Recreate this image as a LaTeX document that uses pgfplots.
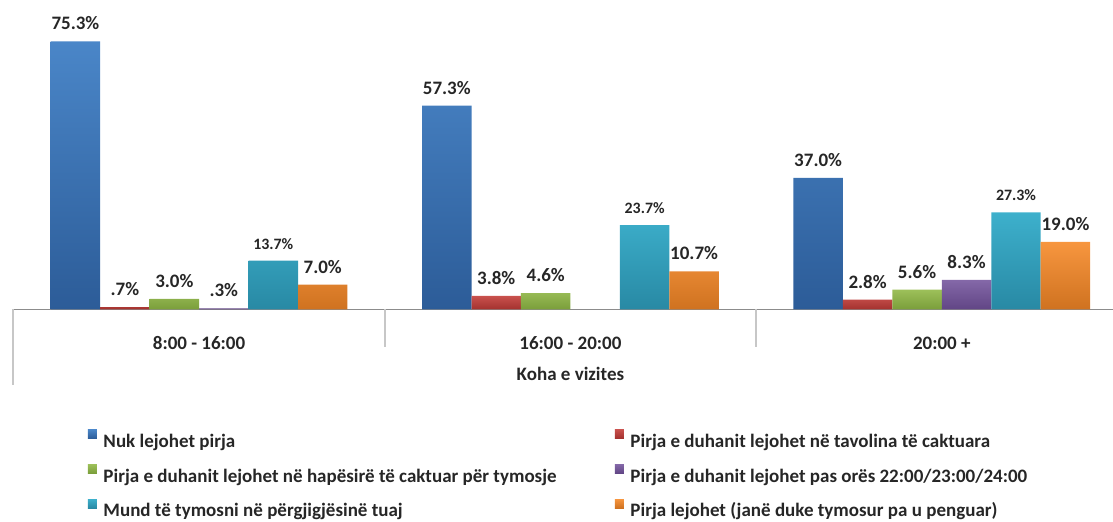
\documentclass[border=0pt]{standalone}
\usepackage{pgfplots}
\pgfplotsset{compat=1.18}
\usepackage{fontspec}
\setmainfont{Carlito}
\definecolor{bluetop}{HTML}{4A86C8}
\definecolor{bluebot}{HTML}{2C5C98}
\definecolor{redtop}{HTML}{C9514D}
\definecolor{redbot}{HTML}{A3312E}
\definecolor{greentop}{HTML}{9DC05A}
\definecolor{greenbot}{HTML}{7A9E3A}
\definecolor{purpletop}{HTML}{8468A8}
\definecolor{purplebot}{HTML}{614585}
\definecolor{cyantop}{HTML}{3DB0CC}
\definecolor{cyanbot}{HTML}{2889A4}
\definecolor{orangetop}{HTML}{F7963F}
\definecolor{orangebot}{HTML}{CF7220}
\newcommand{\bigf}{\fontsize{14.25}{17.1}\selectfont\bfseries}
\newcommand{\smallf}{\fontsize{11.9}{14.3}\selectfont\bfseries}
\newcommand{\lstrut}{\rule[-7.8pt]{0pt}{22.5pt}}
\newcommand{\colA}[1]{\makebox[383.6pt][l]{\lstrut #1}}
\newcommand{\colB}[1]{\lstrut #1}
\begin{document}
\begin{tikzpicture}
\useasboundingbox (0,0) rectangle (834.75pt,390.75pt);
\clip (0,0) rectangle (834.75pt,390.75pt);
\begin{axis}[
  at={(10.05pt,158.63pt)}, anchor=south west,
  scale only axis, width=824.7pt, height=232.1pt,
  xmin=-0.5, xmax=2.461, ymin=0, ymax=86.94,
  ybar=0pt, bar width=37.1pt,
  axis x line*=bottom, axis y line=none,
  x axis line style={-, draw=black!45, line width=0.9pt},
  xtick={0,1,2}, xticklabels={8:00 - 16:00,16:00 - 20:00,20:00 +},
  xtick style={draw=none}, ytick=\empty,
  xticklabel style={font=\bigf, text=black!85, anchor=base, yshift=-25.9pt},
  clip=false,
  nodes near coords, point meta=explicit symbolic,
  nodes near coords style={font=\bigf, text=black!85, anchor=base, yshift=8.6pt, inner sep=0pt},
  legend columns=2,
  legend style={draw=none, fill=none, at={(0.0678,-0.3819)}, anchor=north west, inner sep=0pt, outer sep=0pt, row sep=9.9pt, font=\bigf, text=black!85, nodes={inner sep=0pt}, /tikz/every odd column/.append style={column sep=4.9pt}},
  legend cell align=left,
  legend image code/.code={\path (0pt,-4.35pt) -- (0pt,6.75pt); \fill[#1] (0pt,0pt) rectangle (6.75pt,6.75pt);},
]
\addplot[draw=none, top color=bluetop, bottom color=bluebot] coordinates {(0,75.3) [75.3\%] (1,57.3) [57.3\%] (2,37.0) [37.0\%]};
\addlegendentry{\colA{Nuk lejohet pirja}}
\addplot[draw=none, top color=redtop, bottom color=redbot] coordinates {(0,0.7) [.7\%] (1,3.8) [3.8\%] (2,2.8) [2.8\%]};
\addlegendentry{\colB{Pirja e duhanit lejohet në tavolina të caktuara}}
\addplot[draw=none, top color=greentop, bottom color=greenbot] coordinates {(0,3.0) [3.0\%] (1,4.6) [4.6\%] (2,5.6) [5.6\%]};
\addlegendentry{\colA{Pirja e duhanit lejohet në hapësirë të caktuar për tymosje}}
\addplot[draw=none, top color=purpletop, bottom color=purplebot] coordinates {(0,0.3) [.3\%] (2,8.3) [8.3\%]};
\addlegendentry{\colB{Pirja e duhanit lejohet pas orës 22:00/23:00/24:00}}
\addplot[draw=none, top color=cyantop, bottom color=cyanbot, nodes near coords style={font=\smallf}] coordinates {(0,13.7) [13.7\%] (1,23.7) [23.7\%] (2,27.3) [27.3\%]};
\addlegendentry{\colA{Mund të tymosni në përgjigjësinë tuaj}}
\addplot[draw=none, top color=orangetop, bottom color=orangebot] coordinates {(0,7.0) [7.0\%] (1,10.7) [10.7\%] (2,19.0) [19.0\%]};
\addlegendentry{\colB{Pirja lejohet (janë duke tymosur pa u penguar)}}
\draw[black!22, line width=1.5pt] (axis cs:-0.5,0) -- ++(0pt,-56.6pt);
\draw[black!22, line width=1.5pt] (axis cs:0.5,0) -- ++(0pt,-28.1pt);
\draw[black!22, line width=1.5pt] (axis cs:1.5,0) -- ++(0pt,-28.1pt);
\node[font=\bigf, text=black!85, anchor=base, yshift=-52.9pt] at (axis cs:1,0) {Koha e vizites};
\end{axis}
\end{tikzpicture}
\end{document}
